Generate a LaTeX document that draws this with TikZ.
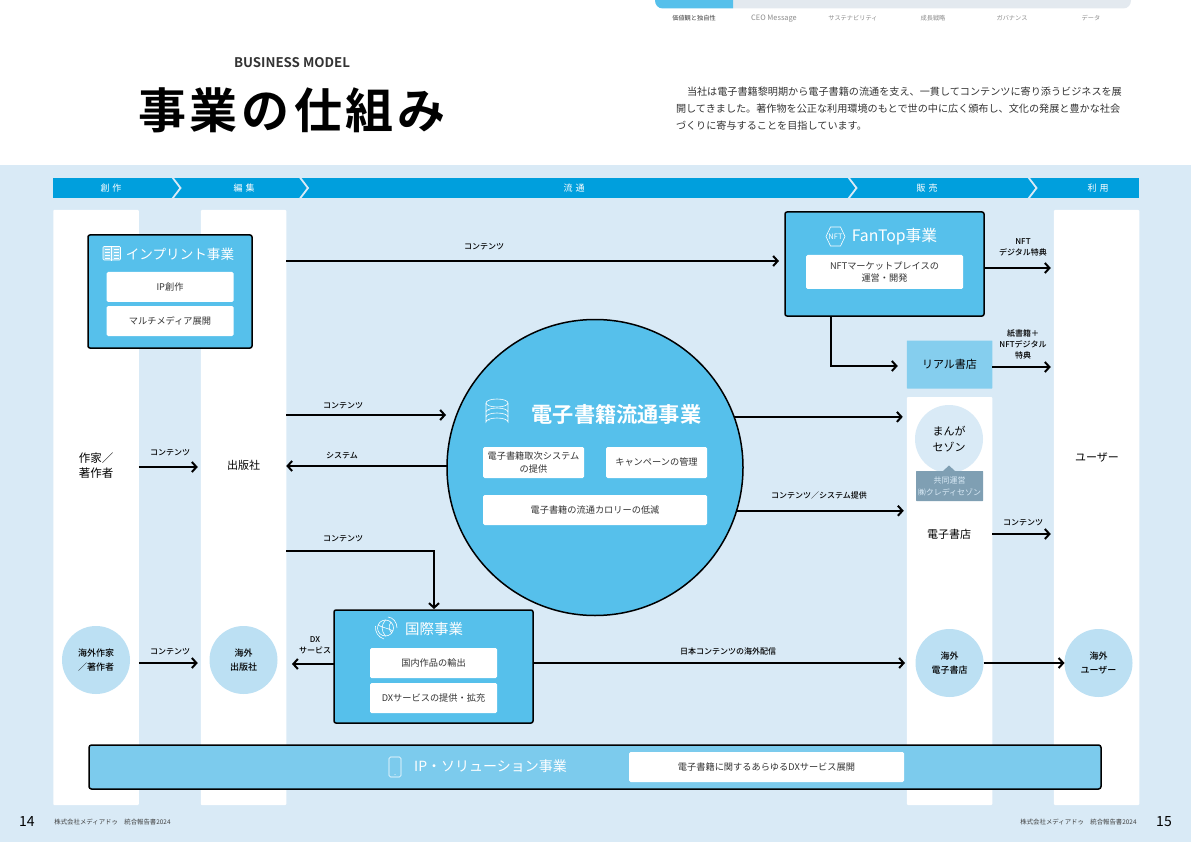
\documentclass[tikz,border=0pt]{standalone}
\usepackage{fontspec}
\setmainfont[BoldFont={Noto Sans CJK JP Medium}]{Noto Sans CJK JP}
\newfontfamily\heavy{Noto Sans CJK JP Bold}
\usetikzlibrary{arrows.meta,positioning}
\definecolor{pagebg}{HTML}{D9EAF6}
\definecolor{band}{HTML}{009FDD}
\definecolor{panelblue}{HTML}{56C0EB}
\definecolor{barblue}{HTML}{7CCBED}
\definecolor{storeblue}{HTML}{85CEEE}
\definecolor{ballblue}{HTML}{BCE0F3}
\definecolor{slate}{HTML}{7F9FB3}
\definecolor{navgrey}{HTML}{E3E9EF}
\definecolor{ink}{HTML}{333333}
\begin{document}
\begin{tikzpicture}[
    x=1pt, y=-1pt,
    every node/.style={inner sep=0pt, outer sep=0pt, align=center},
    column/.style={fill=white, rounded corners=1pt, minimum width=85.5},
    panel/.style={draw=black, line width=1.5pt, fill=panelblue, rounded corners=2pt},
    whitebox/.style={fill=white, rounded corners=1.5pt, text=ink, font=\fontsize{9.2}{12.5}\selectfont},
    head/.style={text=white, font=\fontsize{14}{16}\selectfont},
    stage/.style={text=white, font=\fontsize{9}{10}\selectfont},
    label/.style={text=black, font=\fontsize{8}{11}\bfseries\selectfont},
    actor/.style={text=black, font=\fontsize{11}{15}\selectfont},
    ball/.style={circle, fill=ballblue, minimum size=68, text=black, font=\fontsize{9}{14}\bfseries\selectfont},
    flow/.style={draw=black, line width=2pt, -{Straight Barb[length=4.5pt,width=10pt,line width=2pt]}},
    chevron/.style={draw=pagebg, line width=1.8pt},
    icon/.style={draw=white, line width=0.6pt},
    navlabel/.style={text=black!45, font=\fontsize{6.2}{8}\selectfont}
]
\useasboundingbox (0,0) rectangle (1191,842);
\fill[white] (0,0) rectangle (1191,842);
\fill[pagebg] (0,165) rectangle (1191,842);

\fill[navgrey] (733,0) -- (1131,0) .. controls (1131,5) and (1128,8.5) .. (1123,8.5) -- (733,8.5) -- cycle;
\fill[panelblue] (733,0) -- (655,0) .. controls (655,5) and (658,8.5) .. (663,8.5) -- (733,8.5) -- cycle;
\node[navlabel, text=black!75] (navvalue) at (694,18.5) {価値観と独自性};
\node[navlabel, font=\fontsize{7.4}{8}\selectfont] (navceo) at (774,18.5) {CEO Message};
\node[navlabel] (navsus) at (853,18.5) {サステナビリティ};
\node[navlabel] (navgrowth) at (933,18.5) {成長戦略};
\node[navlabel] (navgov) at (1012,18.5) {ガバナンス};
\node[navlabel] (navdata) at (1091,18.5) {データ};

\node[text=black!80, font=\heavy\fontsize{13.3}{14}\selectfont] (subtitle) at (292,62.5) {BUSINESS MODEL};
\node[text=black, font=\heavy\fontsize{48}{50}\selectfont] (title) at (292,110) {事\kern4pt 業\kern4pt の\kern4pt 仕\kern4pt 組\kern4pt み};
\node[anchor=north west, align=left, text=ink, font=\fontsize{10.12}{17}\selectfont] (intro) at (676,87) {\hspace{11pt}当社は電子書籍黎明期から電子書籍の流通を支え、一貫してコンテンツに寄り添うビジネスを展\\開してきました。著作物を公正な利用環境のもとで世の中に広く頒布し、文化の発展と豊かな社会\\づくりに寄与することを目指しています。};

\fill[band] (53,178) rectangle (1139,198);
\foreach \cx in {172.5,300,848.5,1028.5}
  \draw[chevron] (\cx,177.5) -- (\cx+8,188) -- (\cx,198.5);
\node[stage] (stagecreate) at (111,188) {創\kern3pt 作};
\node[stage] (stageedit) at (244,188) {編\kern3pt 集};
\node[stage] (stageflow) at (574,188) {流\kern3pt 通};
\node[stage] (stagesale) at (927,188) {販\kern3pt 売};
\node[stage] (stageuse) at (1098,188) {利\kern3pt 用};

\node[column, minimum height=595] (colauthor) at (96,507.5) {};
\node[column, minimum height=595] (colpublisher) at (243.5,507.5) {};
\node[column, minimum height=408] (colstore) at (949.5,601) {};
\node[column, minimum height=595] (coluser) at (1096.5,507.5) {};

\node[fill=storeblue, rounded corners=0.5pt, minimum width=85.5, minimum height=48, text=black, font=\fontsize{11}{14}\selectfont] (realstore) at (949.5,364.5) {リアル書店};

\node[panel, minimum width=164, minimum height=113] (imprint) at (170,291.5) {};
\node[head, font=\fontsize{13.6}{16}\selectfont] (imprinthead) at (180,254) {インプリント事業};
\node[whitebox, minimum width=127, minimum height=30] (ipcreate) at (170,287) {IP創作};
\node[whitebox, minimum width=127, minimum height=30] (multimedia) at (170,321) {マルチメディア展開};
\draw[icon, fill=white!30!panelblue, rounded corners=1pt] (103,246.5) rectangle (120.5,260);
\draw[icon] (111.7,246.5) -- (111.7,261);
\foreach \ly in {249.5,252.5,255.5,258}
  \draw[icon, line width=0.5pt] (105,\ly) -- (110,\ly) (113.5,\ly) -- (118.5,\ly);

\node[panel, minimum width=199, minimum height=104] (fantop) at (884.5,264) {};
\node[head, font=\fontsize{15.8}{16}\selectfont] (fantophead) at (894.5,236.5) {FanTop事業};
\node[whitebox, minimum width=157, minimum height=34] (nftmarket) at (884.5,272) {NFTマーケットプレイスの\\運営・開発};
\draw[icon] (826,236.5) -- (830.5,227) -- (840.5,227) -- (845,236.5) -- (840.5,246) -- (830.5,246) -- cycle;
\node[text=white, font=\fontsize{7.5}{8}\selectfont\itshape] (nftmark) at (835.5,236.5) {NFT};

\node[circle, draw=black, line width=1.5pt, fill=panelblue, minimum size=296] (ebook) at (595,467.5) {};
\node[text=white, font=\heavy\fontsize{21.2}{24}\selectfont] (ebookhead) at (616.5,414) {電子書籍流通事業};
\node[whitebox, minimum width=101, minimum height=31] (ebooksys) at (533.5,462.5) {電子書籍取次システム\\の提供};
\node[whitebox, minimum width=101, minimum height=31] (campaign) at (656.5,462.5) {キャンペーンの管理};
\node[whitebox, minimum width=224, minimum height=30] (calorie) at (595,510) {電子書籍の流通カロリーの低減};
\draw[icon] (486,403) arc[start angle=180, end angle=540, x radius=11, y radius=4];
\draw[icon] (486,403) -- (486,422) arc[start angle=180, end angle=360, x radius=11, y radius=4] -- (508,403);
\draw[icon] (486,412) arc[start angle=180, end angle=360, x radius=11, y radius=4];
\draw[icon] (486,417) arc[start angle=180, end angle=360, x radius=11, y radius=4];
\fill[white] (489,410) circle (0.6) (489,420) circle (0.6);

\node[circle, fill=pagebg, minimum size=68, text=black, font=\fontsize{11}{15.5}\selectfont] (manga) at (949,439) {まんが\\セゾン};
\fill[slate] (943,471) -- (949,465.5) -- (955,471) -- cycle;
\node[fill=slate, rounded corners=0.5pt, minimum width=67, minimum height=30, text=pagebg, font=\fontsize{8}{12}\selectfont] (joint) at (949.5,486) {共同運営\\㈱クレディセゾン};
\node[actor] (ebookstore) at (949,534) {電子書店};

\node[actor, font=\fontsize{11.5}{15}\selectfont] (author) at (96,465.5) {作家／\\著作者};
\node[actor] (publisher) at (243.5,465.5) {出版社};
\node[actor] (user) at (1097,457.5) {ユーザー};

\node[panel, minimum width=199, minimum height=113] (intl) at (433.5,666.5) {};
\node[head, font=\fontsize{14.5}{16}\selectfont] (intlhead) at (434,629) {国際事業};
\node[whitebox, minimum width=127, minimum height=30] (export) at (433.5,663) {国内作品の輸出};
\node[whitebox, minimum width=127, minimum height=30] (dxservice) at (433.5,698) {DXサービスの提供・拡充};
\draw[icon] (385.5,628) circle (8);
\draw[icon] (385.5,620) .. controls (381,625) and (381,631) .. (385.5,636);
\draw[icon] (378,625) .. controls (383,628) and (388,628) .. (393,631);
\draw[icon] (391,622) .. controls (388,626) and (389,631) .. (392,633);
\draw[icon] (375.5,626) .. controls (375,632) and (378,637) .. (384,639);
\draw[icon] (388,617) .. controls (393,617.5) and (397,622) .. (397,628);

\node[ball] (intlauthor) at (96,660) {海外作家\\／著作者};
\node[ball] (intlpublisher) at (243.5,660) {海外\\出版社};
\node[ball] (intlstore) at (949.5,663) {海外\\電子書店};
\node[ball] (intluser) at (1098.5,663) {海外\\ユーザー};

\node[draw=black, line width=1.5pt, fill=barblue, rounded corners=2.5pt, minimum width=1012, minimum height=44] (ipbar) at (595,767) {};
\node[head] (iphead) at (490.5,766.5) {IP・ソリューション事業};
\node[whitebox, minimum width=275, minimum height=30] (dxall) at (766.5,767) {電子書籍に関するあらゆるDXサービス展開};
\draw[icon, rounded corners=1.5pt] (389,757) rectangle (401,777);
\fill[white] (395,774.5) circle (0.5);

\coordinate (fantopdown) at (831,366);
\coordinate (intlturn) at (434,551);

\draw[flow, shorten >=6pt] (colpublisher.east |- 0,261) -- (fantop.west |- 0,261);
\draw[flow, shorten >=3pt] (fantop.east |- 0,268) -- (coluser.west |- 0,268);
\draw[flow, shorten >=9pt] (fantop.south -| fantopdown) -- (fantopdown) -- (realstore.west |- fantopdown);
\draw[flow, shorten >=3pt] (realstore.east |- 0,367) -- (coluser.west |- 0,367);
\draw[flow, shorten >=1pt] (colpublisher.east |- 0,415) -- (ebook.west |- 0,415);
\draw[flow, shorten >=0pt] (ebook.west |- 0,466) -- (colpublisher.east |- 0,466);
\draw[flow, shorten >=1pt] (colpublisher.east |- intlturn) -- (intlturn) -- (intl.north -| intlturn);
\draw[flow, shorten >=4pt] (ebook.20.6) -- (ebook.20.6 -| colstore.west);
\draw[flow, shorten >=3pt] (ebook.-17.3) -- (ebook.-17.3 -| colstore.west);
\draw[flow, shorten >=3pt] (colauthor.east |- 0,467) -- (colpublisher.west |- 0,467);
\draw[flow, shorten >=3pt] (colstore.east |- 0,534) -- (coluser.west |- 0,534);
\draw[flow, shorten >=3pt] (colauthor.east |- 0,663) -- (colpublisher.west |- 0,663);
\draw[flow, shorten >=14.5pt] (intl.west |- 0,664) -- (intlpublisher.east |- 0,664);
\draw[flow, shorten >=10.5pt] (intl.east |- 0,663) -- (intlstore.west |- 0,663);
\draw[flow] (intlstore.east |- 0,663) -- (intluser.west |- 0,663);

\node[label] (lbcontent) at (484,247) {コンテンツ};
\node[label] (lbnft) at (1023,247) {NFT\\デジタル特典};
\node[label] (lbpaper) at (1023,344) {紙書籍＋\\NFTデジタル\\特典};
\node[label] (lbtoebook) at (343,405.5) {コンテンツ};
\node[label] (lbsystem) at (342,455.5) {システム};
\node[label] (lbtointl) at (343,538.5) {コンテンツ};
\node[label] (lbsupply) at (819,495.5) {コンテンツ／システム提供};
\node[label] (lbauthor) at (170,452.5) {コンテンツ};
\node[label] (lbstore) at (1023,523) {コンテンツ};
\node[label] (lbintlauthor) at (170,652) {コンテンツ};
\node[label] (lbdx) at (315,645) {DX\\サービス};
\node[label] (lboverseas) at (728,651.5) {日本コンテンツの海外配信};

\node[text=black, font=\fontsize{14}{16}\selectfont] (pageleft) at (27,822) {14};
\node[text=black!75, font=\fontsize{6.4}{8}\selectfont] (footleft) at (112.5,822) {株式会社メディアドゥ\quad 統合報告書2024};
\node[text=black!75, font=\fontsize{6.4}{8}\selectfont] (footright) at (1078.5,822) {株式会社メディアドゥ\quad 統合報告書2024};
\node[text=black, font=\fontsize{14}{16}\selectfont] (pageright) at (1164,822) {15};
\end{tikzpicture}
\end{document}
